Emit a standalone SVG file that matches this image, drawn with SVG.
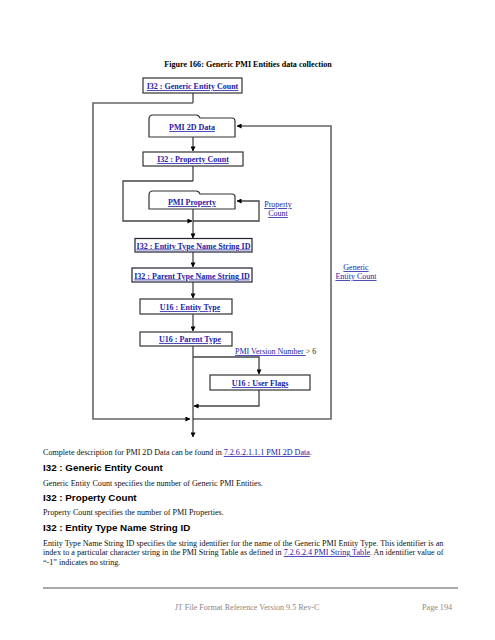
<svg xmlns="http://www.w3.org/2000/svg" width="495" height="640" viewBox="0 0 495 640">
<defs>
<marker id="ah" viewBox="0 0 6 6" refX="5.5" refY="3" markerWidth="5" markerHeight="5" markerUnits="userSpaceOnUse" orient="auto">
<path d="M0,0 L6,3 L0,6 Z" fill="#000"/>
</marker>
</defs>
<style>
.box{fill:#fff;stroke:#333;stroke-width:1.2}
.bt{font-family:"Liberation Serif","Times New Roman",serif;font-weight:bold;font-size:8px;fill:#2222aa;text-decoration:underline;text-anchor:middle}
.lk{font-family:"Liberation Serif","Times New Roman",serif;font-size:8px;fill:#2222aa;text-decoration:underline}
.body{font-family:"Liberation Serif","Times New Roman",serif;font-size:8.1px;fill:#111}
.h{font-family:"Liberation Sans",Arial,sans-serif;font-weight:bold;font-size:9.8px;fill:#000}
.ln{fill:none;stroke:#111;stroke-width:1}
.lp{fill:none;stroke:#444;stroke-width:1.3}
.lo{fill:none;stroke:#666;stroke-width:1.6}
</style>
<rect width="495" height="640" fill="#fff"/>
<text x="248" y="67" text-anchor="middle" style="font-family:'Liberation Serif','Times New Roman',serif;font-weight:bold;font-size:8.1px;fill:#000">Figure 166: Generic PMI Entities data collection</text>

<g id="connectors">
<path class="ln" d="M193,93 V103"/>
<path class="lo" d="M193,103 H93 V419 H190" marker-end="url(#ah)"/>
<path class="lo" d="M193,419 H331 V126 H237" marker-end="url(#ah)"/>
<path class="ln" d="M193,137 V151" marker-end="url(#ah)"/>
<path class="ln" d="M193,166 V181"/>
<path class="lp" d="M193,181 H123 V221 H192" marker-end="url(#ah)"/>
<path class="ln" d="M193,209 V221"/>
<path class="lp" d="M193,221 H259 V201 H237" marker-end="url(#ah)"/>
<path class="ln" d="M193,221 V238" marker-end="url(#ah)"/>
<path class="ln" d="M193,252 V267" marker-end="url(#ah)"/>
<path class="ln" d="M193,282 V298" marker-end="url(#ah)"/>
<path class="ln" d="M193,314 V331" marker-end="url(#ah)"/>
<path class="ln" d="M193,346 V437" marker-end="url(#ah)"/>
<path class="lp" d="M193,357 H259 V374" marker-end="url(#ah)"/>
<path class="lp" d="M259,390 V406 H194" marker-end="url(#ah)"/>
</g>

<g id="generic-entity-count">
<rect class="box" x="143" y="78" width="99" height="15"/>
<text class="bt" x="192.5" y="89">I32 : Generic Entity Count</text>
</g>
<g id="pmi-2d-data">
<path class="box" d="M149,137 L149,119 Q149,115 153,115 L196,115 Q199,115 200,118 L232,118 Q235,118 235,121 L235,137 Z"/>
<text class="bt" x="192" y="130">PMI 2D Data</text>
</g>
<g id="property-count">
<rect class="box" x="143" y="152" width="100" height="14"/>
<text class="bt" x="193" y="162">I32 : Property Count</text>
</g>
<g id="pmi-property">
<path class="box" d="M149,209 L149,195 Q149,191 153,191 L196,191 Q199,191 200,194 L232,194 Q235,194 235,197 L235,209 Z"/>
<text class="bt" x="192" y="205">PMI Property</text>
</g>
<g id="entity-type-name">
<rect class="box" x="135" y="238.5" width="117" height="13.5" style="stroke:#223"/>
<text class="bt" x="193.5" y="248.5">I32 : Entity Type Name String ID</text>
</g>
<g id="parent-type-name">
<rect class="box" x="132" y="268" width="120" height="14" style="stroke:#223"/>
<text class="bt" x="192" y="278.5">I32 : Parent Type Name String ID</text>
</g>
<g id="entity-type">
<rect class="box" x="140" y="299" width="92" height="15"/>
<text class="bt" x="190" y="310">U16 : Entity Type</text>
</g>
<g id="parent-type">
<rect class="box" x="140" y="332" width="92" height="14"/>
<text class="bt" x="190" y="342">U16 : Parent Type</text>
</g>
<g id="user-flags">
<rect class="box" x="210" y="375" width="100" height="15"/>
<text class="bt" x="260" y="386">U16 : User Flags</text>
</g>

<g id="labels">
<text class="lk" x="278" y="207" text-anchor="middle">Property</text>
<text class="lk" x="278" y="216" text-anchor="middle">Count</text>
<text class="lk" x="356" y="270" text-anchor="middle">Generic</text>
<text class="lk" x="356" y="279" text-anchor="middle">Entity Count</text>
<text x="235" y="354" style="font-family:'Liberation Serif','Times New Roman',serif;font-size:8px;fill:#222"><tspan class="lk">PMI Version Number </tspan><tspan>&gt; 6</tspan></text>
</g>

<text class="body" x="43" y="455">Complete description for PMI 2D Data can be found in <tspan class="lk" style="font-size:8.1px">7.2.6.2.1.1.1 PMI 2D Data</tspan>.</text>
<text class="h" x="43" y="471">I32 : Generic Entity Count</text>
<text class="body" x="43" y="486">Generic Entity Count specifies the number of Generic PMI Entities.</text>
<text class="h" x="43" y="501">I32 : Property Count</text>
<text class="body" x="43" y="515">Property Count specifies the number of PMI Properties.</text>
<text class="h" x="43" y="531">I32 : Entity Type Name String ID</text>
<text class="body" x="43" y="546">Entity Type Name String ID specifies the string identifier for the name of the Generic PMI Entity Type.  This identifier is an</text>
<text class="body" x="43" y="555">index to a particular character string in the PMI String Table as defined in <tspan class="lk" style="font-size:8.1px">7.2.6.2.4 PMI String Table</tspan>.  An identifier value of</text>
<text class="body" x="43" y="565">“-1” indicates no string.</text>
<line x1="43" y1="588" x2="458" y2="588" stroke="#555" stroke-width="1.2"/>
<text x="247" y="610" text-anchor="middle" style="font-family:'Liberation Serif','Times New Roman',serif;font-size:8.1px;fill:#888">JT File Format Reference Version 9.5 Rev-C</text>
<text x="452" y="610" text-anchor="end" style="font-family:'Liberation Serif','Times New Roman',serif;font-size:8.1px;fill:#888">Page 194</text>
</svg>
